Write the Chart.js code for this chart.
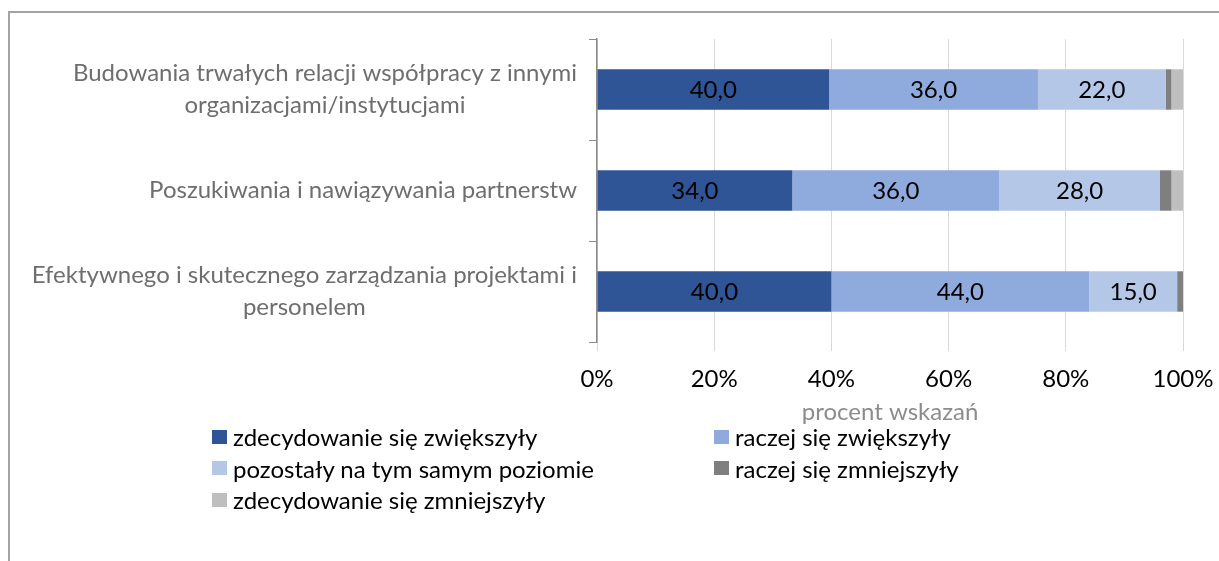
<!DOCTYPE html>
<html>
<head>
<meta charset="utf-8">
<script src="https://cdn.jsdelivr.net/npm/chart.js@4"></script>
<style>
  html, body { margin: 0; padding: 0; background: #fff; overflow: hidden; }
  #wrap { position: relative; width: 1219px; height: 561px; }
  #frame { position: absolute; left: 8px; top: 11px; width: 1300px; height: 700px; border: 2px solid #a3a3a3; box-sizing: border-box; }
  #chart { position: absolute; left: 0; top: 0; }
  #legend { position: absolute; left: 212px; top: 421px; display: grid; grid-template-columns: 502px 502px; grid-auto-rows: 31.5px;
            font-family: Lato, sans-serif; font-size: 24px; color: #000; }
  #legend .item { display: flex; align-items: center; white-space: nowrap; }
  #legend .box { width: 15px; height: 14px; margin-right: 6px; }
</style>
</head>
<body>
<div id="wrap">
  <div id="frame"></div>
  <canvas id="chart" width="1219" height="561"></canvas>
  <div id="legend"></div>
</div>
<script>
const categories = [
    ['Budowania trwałych relacji współpracy z innymi', 'organizacjami/instytucjami'],
    ['Poszukiwania i nawiązywania partnerstw'],
    ['Efektywnego i skutecznego zarządzania projektami i', 'personelem']
];
const seriesNames = [
    'zdecydowanie się zwiększyły',
    'raczej się zwiększyły',
    'pozostały na tym samym poziomie',
    'raczej się zmniejszyły',
    'zdecydowanie się zmniejszyły'
];
const zdecydowanieZwiekszyly = [40, 34, 40];
const raczejZwiekszyly = [36, 36, 44];
const pozostaly = [22, 28, 15];
const raczejZmniejszyly = [1, 2, 1];
const zdecydowanieZmniejszyly = [2, 2, 0];
const xTicks = [0, 20, 40, 60, 80, 100];

const colors = ['#2F5597', '#8FAADC', '#B4C7E7', '#7F7F7F', '#BFBFBF'];
const rawSeries = [zdecydowanieZwiekszyly, raczejZwiekszyly, pozostaly, raczejZmniejszyly, zdecydowanieZmniejszyly];

// 100% stacked: share of each answer within its row
const totals = categories.map((c, i) => rawSeries.reduce((s, arr) => s + arr[i], 0));

const FONT = 'Lato';

const catLabels = {
    id: 'catLabels',
    afterDraw(chart) {
        const ctx = chart.ctx;
        const yScale = chart.scales.y;
        const right = yScale.right - 20;
        const lh = 31.5;
        ctx.save();
        ctx.font = `24px ${FONT}`;
        ctx.fillStyle = '#6e6e6e';
        ctx.textAlign = 'center';
        ctx.textBaseline = 'middle';
        categories.forEach((lines, i) => {
            const widest = Math.max(...lines.map(l => ctx.measureText(l).width));
            const cx = right - widest / 2;
            const cy = yScale.getPixelForValue(i);
            lines.forEach((l, k) => {
                ctx.fillText(l, cx, cy + (k - (lines.length - 1) / 2) * lh);
            });
        });
        ctx.restore();
    }
};

const barLabels = {
    id: 'barLabels',
    afterDatasetsDraw(chart) {
        const ctx = chart.ctx;
        ctx.save();
        ctx.font = `24px ${FONT}`;
        ctx.fillStyle = '#000';
        ctx.textAlign = 'center';
        ctx.textBaseline = 'middle';
        chart.data.datasets.forEach((ds, d) => {
            if (d > 2) return;
            chart.getDatasetMeta(d).data.forEach((el, i) => {
                const txt = ds.raw[i].toFixed(1).replace('.', ',');
                ctx.fillText(txt, (el.x + el.base) / 2, el.y + 1);
            });
        });
        ctx.restore();
    }
};

const config = {
    type: 'bar',
    data: {
        labels: categories,
        datasets: rawSeries.map((arr, d) => ({
            label: seriesNames[d],
            raw: arr,
            data: arr.map((v, i) => v / totals[i] * 100),
            backgroundColor: colors[d],
            borderWidth: 0,
            barPercentage: 0.4,
            categoryPercentage: 1
        }))
    },
    options: {
        indexAxis: 'y',
        responsive: false,
        animation: false,
        layout: { padding: { top: 39, right: 36, left: 0, bottom: 134.6 } },
        plugins: { legend: { display: false }, tooltip: { enabled: false } },
        scales: {
            y: {
                stacked: true,
                afterFit: s => { s.width = 597; },
                ticks: { display: false },
                grid: { drawOnChartArea: false, tickLength: 8, color: '#8a8a8a', offset: true },
                border: { color: '#8a8a8a', width: 1.5 }
            },
            x: {
                stacked: true,
                min: 0,
                max: 100,
                afterFit: s => { s.height = 84.4; s.paddingLeft = 0; s.paddingRight = 0; },
                afterBuildTicks: s => { s.ticks = xTicks.map(v => ({ value: v })); },
                ticks: {
                    callback: v => v + '%',
                    color: '#000',
                    padding: 14,
                    font: { family: FONT, size: 24 }
                },
                grid: { color: '#d9d9d9', tickLength: 9 },
                border: { display: false },
                title: {
                    display: true,
                    text: 'procent wskazań',
                    color: '#8c8c8c',
                    padding: 0,
                    font: { family: FONT, size: 24 }
                }
            }
        }
    },
    plugins: [catLabels, barLabels]
};

let ctx = document.getElementById('chart').getContext('2d');
const chart = new Chart(ctx, config);

const legend = document.getElementById('legend');
chart.data.datasets.forEach(ds => {
    const item = document.createElement('div');
    item.className = 'item';
    item.innerHTML = `<span class="box" style="background:${ds.backgroundColor}"></span><span>${ds.label}</span>`;
    legend.appendChild(item);
});
</script>
</body>
</html>
